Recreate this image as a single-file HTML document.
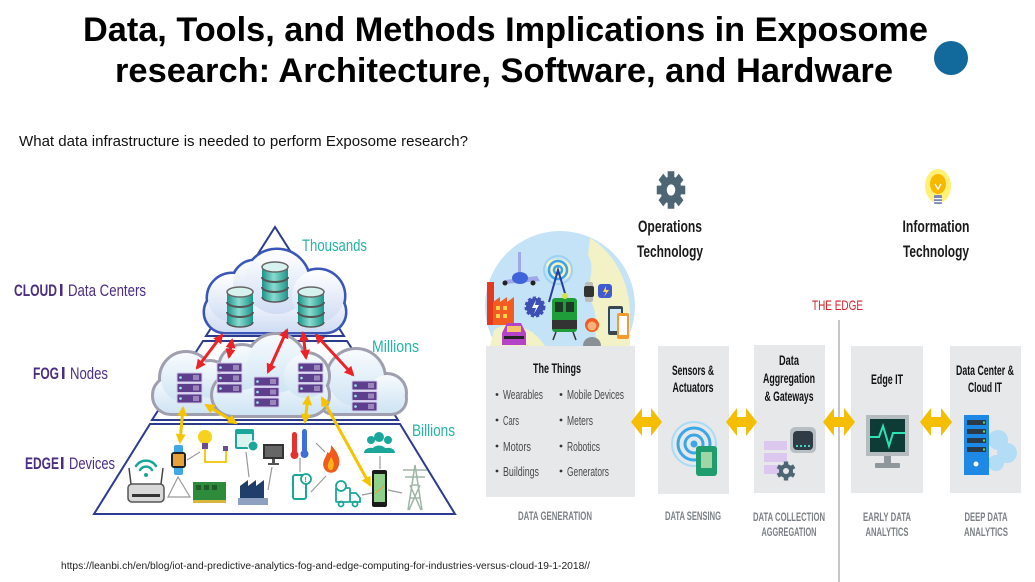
<!DOCTYPE html>
<html><head><meta charset="utf-8"><style>
html,body{margin:0;padding:0;background:#fff;}
body{width:1035px;height:582px;overflow:hidden;}
svg{display:block;}
</style></head><body>
<svg width="1035" height="582" viewBox="0 0 1035 582" xmlns="http://www.w3.org/2000/svg" font-family="'Liberation Sans', Arial, sans-serif">
<defs>
  <linearGradient id="gTop" x1="0" y1="0" x2="0" y2="1"><stop offset="0" stop-color="#ffffff"/><stop offset="1" stop-color="#cfdcf3"/></linearGradient>
  <linearGradient id="gFog" x1="0" y1="0" x2="0" y2="1"><stop offset="0" stop-color="#f7fbfe"/><stop offset="1" stop-color="#cfe4f3"/></linearGradient>
  <linearGradient id="gTeal" x1="0" y1="0" x2="1" y2="0"><stop offset="0" stop-color="#1c9488"/><stop offset="0.45" stop-color="#8adbd0"/><stop offset="1" stop-color="#1c9488"/></linearGradient>
  <marker id="mr" viewBox="0 0 10 10" refX="8" refY="5" markerWidth="10" markerHeight="10" markerUnits="userSpaceOnUse" orient="auto-start-reverse"><path d="M0,0 L10,5 L0,10 z" fill="#ec2227"/></marker>
  <marker id="my" viewBox="0 0 10 10" refX="8" refY="5" markerWidth="10" markerHeight="10" markerUnits="userSpaceOnUse" orient="auto-start-reverse"><path d="M0,0 L10,5 L0,10 z" fill="#f5c400"/></marker>
  <clipPath id="globeClip"><rect x="480" y="220" width="160" height="126"/></clipPath>
  <g id="db">
    <path d="M0,5 V35 A13,5 0 0 0 26,35 V5 Z" fill="url(#gTeal)"/>
    <path d="M0,15 A13,5 0 0 0 26,15" fill="none" stroke="#555" stroke-width="2"/>
    <path d="M0,25 A13,5 0 0 0 26,25" fill="none" stroke="#555" stroke-width="2"/>
    <path d="M0,35 A13,5 0 0 0 26,35" fill="none" stroke="#555" stroke-width="1.5"/>
    <ellipse cx="13" cy="5" rx="13" ry="5" fill="#d6f1ee" stroke="#666" stroke-width="1.5"/>
  </g>
  <g id="sv">
    <rect x="0" y="0" width="25" height="9" rx="1" fill="#5d3f8e" stroke="#d4c8ea" stroke-width="1"/>
    <rect x="0" y="10.5" width="25" height="9" rx="1" fill="#5d3f8e" stroke="#d4c8ea" stroke-width="1"/>
    <rect x="0" y="21" width="25" height="9" rx="1" fill="#5d3f8e" stroke="#d4c8ea" stroke-width="1"/>
    <circle cx="3.5" cy="4.5" r="1.3" fill="#9ff0e6"/><circle cx="3.5" cy="15" r="1.3" fill="#9ff0e6"/><circle cx="3.5" cy="25.5" r="1.3" fill="#9ff0e6"/>
    <path d="M17,2v5M19,2v5M21,2v5M17,12.5v5M19,12.5v5M21,12.5v5M17,23v5M19,23v5M21,23v5" stroke="#e4dcf2" stroke-width="0.9"/>
  </g>
  <g id="c1">
    <rect x="205" y="292" width="140" height="40" rx="20"/>
    <circle cx="232" cy="298" r="24"/>
    <circle cx="255" cy="283" r="22"/>
    <circle cx="277" cy="282" r="32"/>
    <circle cx="318" cy="296" r="26"/>
  </g>
  <g id="f1">
    <rect x="154" y="378" width="80" height="35" rx="17"/>
    <circle cx="186" cy="378" r="25"/>
    <circle cx="210" cy="380" r="18"/>
  </g>
  <g id="f2">
    <rect x="213" y="375" width="115" height="40" rx="20"/>
    <circle cx="242" cy="368" r="22"/>
    <circle cx="276" cy="364" r="29"/>
    <circle cx="306" cy="376" r="22"/>
  </g>
  <g id="f3">
    <rect x="320" y="385" width="85" height="28" rx="14"/>
    <circle cx="356" cy="378" r="28"/>
    <circle cx="387" cy="393" r="18"/>
  </g>
</defs>

<!-- Title -->
<text x="83" y="41" font-size="34" font-weight="bold" fill="#000" textLength="845" lengthAdjust="spacingAndGlyphs">Data, Tools, and Methods Implications in Exposome</text>
<text x="115" y="82" font-size="34" font-weight="bold" fill="#000" textLength="778" lengthAdjust="spacingAndGlyphs">research: Architecture, Software, and Hardware</text>
<circle cx="951" cy="58" r="17" fill="#12699b"/>
<text x="19" y="146" font-size="15" fill="#111" textLength="449" lengthAdjust="spacingAndGlyphs">What data infrastructure is needed to perform Exposome research?</text>

<!-- Pyramid -->
<g fill="none" stroke="#2b3b8f" stroke-width="2">
  <polygon points="275,227 206,336 344,336"/>
  <polygon points="203,341 347,341 398,420 152,420"/>
  <polygon points="150,424 400,424 455,514 94,514"/>
</g>

<!-- left labels -->
<g fill="#4b2e83" font-size="16.5">
  <text x="14" y="296" font-weight="bold" textLength="43" lengthAdjust="spacingAndGlyphs">CLOUD</text>
  <rect x="60" y="284" width="2.5" height="12"/>
  <text x="68" y="296" textLength="78" lengthAdjust="spacingAndGlyphs">Data Centers</text>
  <text x="33" y="379" font-weight="bold" textLength="26" lengthAdjust="spacingAndGlyphs">FOG</text>
  <rect x="62" y="367" width="2.5" height="12"/>
  <text x="70" y="379" textLength="38" lengthAdjust="spacingAndGlyphs">Nodes</text>
  <text x="25" y="469" font-weight="bold" textLength="34" lengthAdjust="spacingAndGlyphs">EDGE</text>
  <rect x="61" y="457" width="2.5" height="12"/>
  <text x="69" y="469" textLength="46" lengthAdjust="spacingAndGlyphs">Devices</text>
</g>
<g fill="#26b3a3" font-size="16.5">
  <text x="302" y="251" textLength="65" lengthAdjust="spacingAndGlyphs">Thousands</text>
  <text x="372" y="352" textLength="47" lengthAdjust="spacingAndGlyphs">Millions</text>
  <text x="412" y="436" textLength="43" lengthAdjust="spacingAndGlyphs">Billions</text>
</g>

<!-- Clouds -->
<use href="#c1" fill="#3a56b8" stroke="#3a56b8" stroke-width="5"/>
<use href="#c1" fill="url(#gTop)"/>
<use href="#f1" fill="#a09fb0" stroke="#a09fb0" stroke-width="6"/>
<use href="#f1" fill="url(#gFog)"/>
<use href="#f3" fill="#a09fb0" stroke="#a09fb0" stroke-width="6"/>
<use href="#f3" fill="url(#gFog)"/>
<use href="#f2" fill="#a09fb0" stroke="#a09fb0" stroke-width="6"/>
<use href="#f2" fill="url(#gFog)"/>

<!-- databases -->
<use href="#db" x="227" y="287"/>
<use href="#db" x="262" y="262"/>
<use href="#db" x="298" y="287"/>

<!-- servers -->
<use href="#sv" x="177" y="373"/>
<use href="#sv" x="217" y="363"/>
<use href="#sv" x="254" y="377"/>
<use href="#sv" x="298" y="363"/>
<use href="#sv" x="352" y="381"/>

<!-- red arrows -->
<g stroke="#ec2227" stroke-width="3" marker-start="url(#mr)" marker-end="url(#mr)">
  <line x1="222" y1="335" x2="197" y2="368"/>
  <line x1="232" y1="340" x2="229" y2="357"/>
  <line x1="287" y1="330" x2="268" y2="372"/>
  <line x1="303" y1="333" x2="306" y2="358"/>
  <line x1="316" y1="335" x2="353" y2="375"/>
</g>

<!-- edge device connections -->
<g stroke="#9a9a9a" stroke-width="1.2" fill="none">
  <path d="M178,477 L168,497 L190,497 Z"/>
  <line x1="187" y1="460" x2="200" y2="452"/>
  <line x1="246" y1="452" x2="249" y2="477"/>
  <line x1="272" y1="467" x2="268" y2="490"/>
  <line x1="316" y1="443" x2="325" y2="452"/>
  <line x1="300" y1="458" x2="300" y2="472"/>
  <line x1="311" y1="492" x2="326" y2="476"/>
  <line x1="362" y1="495" x2="372" y2="493"/>
  <line x1="388" y1="490" x2="402" y2="493"/>
  <line x1="380" y1="456" x2="380" y2="469"/>
</g>

<!-- edge icons -->
<g fill="none" stroke="#1aa79a" stroke-width="2.5" stroke-linecap="round">
  <path d="M136,466 A12,12 0 0 1 156,466"/>
  <path d="M140,470 A7,7 0 0 1 152,470"/>
</g>
<circle cx="146" cy="475" r="2" fill="#1aa79a"/>
<line x1="131" y1="484" x2="129" y2="468" stroke="#444" stroke-width="1.5"/>
<line x1="161" y1="484" x2="163" y2="468" stroke="#444" stroke-width="1.5"/>
<rect x="128" y="484" width="36" height="18" rx="4" fill="#d8d8d8" stroke="#555" stroke-width="1.5"/>
<rect x="132" y="494" width="28" height="3" fill="#333"/>
<rect x="174" y="445" width="9" height="30" rx="2" fill="#43a6e6"/>
<rect x="171" y="452" width="15" height="16" rx="3" fill="#222"/>
<rect x="173" y="454" width="11" height="12" fill="#e8a23a"/>
<circle cx="205" cy="437" r="7" fill="#f7d21c"/>
<rect x="202" y="443" width="6" height="6" fill="#6a4d8d"/>
<path d="M205,449 V462 H226 V450" fill="none" stroke="#f5c400" stroke-width="1.8"/>
<rect x="223" y="446" width="5" height="5" fill="#6a4d8d"/>
<rect x="235" y="429" width="19" height="20" rx="2" fill="#1aa79a"/>
<rect x="237" y="434" width="15" height="13" fill="#d9f3ef"/>
<circle cx="253" cy="446" r="5" fill="#1aa79a" stroke="#fff" stroke-width="1"/>
<rect x="193" y="482" width="33" height="20" fill="#2e8b3c"/>
<rect x="196" y="485" width="5" height="5" fill="#1f5c28"/><rect x="204" y="485" width="5" height="5" fill="#1f5c28"/><rect x="212" y="485" width="5" height="5" fill="#1f5c28"/>
<rect x="193" y="500" width="33" height="3" fill="#d8b640"/>
<path d="M240,505 V486 L248,480 V486 L256,480 V486 L264,480 V505 Z" fill="#1f3f6a"/>
<rect x="238" y="498" width="30" height="7" fill="#8ea1c0"/>
<rect x="263" y="444" width="21" height="15" fill="#333"/>
<rect x="265" y="446" width="17" height="11" fill="#666"/>
<rect x="272" y="459" width="3" height="4" fill="#555"/>
<rect x="268" y="463" width="11" height="2" fill="#555"/>
<rect x="292" y="432" width="5" height="22" rx="2.5" fill="#e5322d"/>
<circle cx="294.5" cy="455" r="4" fill="#e5322d"/>
<rect x="302" y="429" width="5" height="24" rx="2.5" fill="#3f6fd8"/>
<circle cx="304.5" cy="454" r="4" fill="#3f6fd8"/>
<path d="M331,445 C340,455 342,463 336,471 C332,474 326,473 324,468 C321,461 327,457 327,452 C330,455 331,450 331,445 Z" fill="#f05a1c"/>
<path d="M331,457 C334,461 335,466 332,470 C329,471 327,468 328,464 Z" fill="#f7b21c"/>
<rect x="293" y="475" width="13" height="24" rx="2" fill="none" stroke="#1aa79a" stroke-width="2"/>
<circle cx="306" cy="479" r="5" fill="#fff" stroke="#1aa79a" stroke-width="1.8"/>
<text x="304.5" y="482" font-size="7" font-weight="bold" fill="#1aa79a">!</text>
<g fill="none" stroke="#1aa79a" stroke-width="1.8">
  <rect x="336" y="488" width="14" height="14" rx="1"/>
  <path d="M350,493 H356 L360,498 V502 H350"/>
  <circle cx="341" cy="504" r="2.5"/><circle cx="355" cy="504" r="2.5"/>
  <circle cx="341" cy="486" r="5" fill="#fff"/>
</g>
<rect x="372" y="470" width="15" height="37" rx="2" fill="#1b1b1b"/>
<rect x="374" y="474" width="11" height="28" fill="#8fd18c"/>
<path d="M375,494 C378,488 381,492 384,484" stroke="#f29a2e" stroke-width="1" fill="none"/>
<g fill="#1aa79a">
  <circle cx="371" cy="440" r="4"/><path d="M364,453 C364,446 378,446 378,453 Z"/>
  <circle cx="388" cy="440" r="4"/><path d="M381,453 C381,446 395,446 395,453 Z"/>
  <circle cx="379" cy="437" r="5"/><path d="M371,453 C371,443 387,443 387,453 Z"/>
</g>
<g stroke="#9fb5a8" stroke-width="1.5" fill="none">
  <path d="M408,510 L415,465 L422,510 M410,498 L420,498 M412,485 L418,485 M405,477 H425 M403,470 H427 M409,510 L420,485 M421,510 L410,485"/>
</g>

<!-- yellow arrows left -->
<g stroke="#f5c400" stroke-width="3" marker-start="url(#my)" marker-end="url(#my)">
  <line x1="183" y1="408" x2="180" y2="442"/>
  <line x1="206" y1="405" x2="236" y2="423"/>
  <line x1="308" y1="397" x2="305" y2="422"/>
  <line x1="322" y1="398" x2="370" y2="485"/>
</g>

<!-- RIGHT DIAGRAM -->
<g clip-path="url(#globeClip)">
  <circle cx="560" cy="306" r="75" fill="#c4e3f7"/>
  <path d="M590,238 C610,250 628,275 630,310 L630,346 L598,346 C592,330 600,315 590,300 C585,285 597,270 588,255 Z" fill="#f3f1c6"/>
  <path d="M494,330 C505,322 520,325 532,332 C540,338 545,346 545,346 L490,346 Z" fill="#f3f1c6"/>
  <path d="M545,262 C560,255 575,262 572,275 C565,282 550,280 545,262 Z" fill="#f3f1c6"/>
  <rect x="487" y="282" width="7" height="43" fill="#e5391f"/>
  <path d="M493,325 V302 L500,297 V302 L507,297 V302 L514,297 V325 Z" fill="#f25c22"/>
  <g fill="#ffd54a"><rect x="496" y="306" width="4" height="4"/><rect x="503" y="306" width="4" height="4"/><rect x="496" y="314" width="4" height="4"/><rect x="503" y="314" width="4" height="4"/></g>
  <path d="M502,345 V333 L507,323 H521 L526,333 V345 Z" fill="#b543c8"/>
  <rect x="507" y="326" width="14" height="6" fill="#f7c46b"/>
  <rect x="504" y="336" width="20" height="3" fill="#222"/>
  <path d="M505,280 L537,276 L540,281 L505,284 Z" fill="#9fa8e8"/>
  <ellipse cx="520" cy="278" rx="8" ry="6" fill="#3f63d8"/>
  <rect x="518" y="252" width="3" height="20" fill="#9fa8e8"/>
  <circle cx="505" cy="283" r="2.5" fill="#222"/><circle cx="533" cy="283" r="2.5" fill="#222"/>
  <circle cx="558" cy="270" r="14" fill="none" stroke="#9ed2f2" stroke-width="2"/>
  <circle cx="558" cy="270" r="9" fill="none" stroke="#3da3e6" stroke-width="2.5"/>
  <circle cx="558" cy="270" r="4" fill="none" stroke="#3da3e6" stroke-width="2.5"/>
  <path d="M549,302 L558,270 L567,300" fill="none" stroke="#2a3d9a" stroke-width="2"/>
  <circle cx="535" cy="307" r="9" fill="#3c4fb5" stroke="#3c4fb5" stroke-width="3" stroke-dasharray="3 2"/>
  <path d="M536,300 L532,308 H536 L534,314 L539,305 H535 Z" fill="#fff"/>
  <rect x="552" y="298" width="25" height="34" rx="3" fill="#1f9d3a"/>
  <rect x="555" y="302" width="8" height="10" fill="#1b3b25"/><rect x="566" y="302" width="8" height="10" fill="#1b3b25"/>
  <rect x="552" y="320" width="25" height="9" fill="#333"/>
  <circle cx="565" cy="296" r="3" fill="#d4e34a"/>
  <path d="M556,332 L553,340 M573,332 L576,340" stroke="#333" stroke-width="1.5"/>
  <rect x="585" y="282" width="8" height="20" rx="2" fill="#bbb"/>
  <rect x="584" y="286" width="10" height="11" rx="2" fill="#333"/>
  <rect x="598" y="284" width="14" height="14" rx="3" fill="#3f5bd0"/>
  <path d="M606,286 L603,292 H606 L604,297 L609,290 H606 Z" fill="#ffd54a"/>
  <circle cx="592" cy="325" r="7" fill="#f25c22"/>
  <circle cx="592" cy="326" r="4.5" fill="#f7b07a"/>
  <path d="M583,346 C583,334 601,334 601,346 Z" fill="#8a9196"/>
  <rect x="608" y="306" width="15" height="29" rx="2" fill="#37474f"/>
  <rect x="610" y="309" width="11" height="22" fill="#cfe8f8"/>
  <rect x="617" y="313" width="12" height="26" rx="2" fill="#f59a2e"/>
  <rect x="619" y="316" width="8" height="19" fill="#fff"/>
</g>

<!-- gear icon -->
<g transform="translate(671,190) scale(0.95,1.25)" fill="#4e6574">
  <circle r="11"/>
  <rect x="-3.5" y="-15" width="7" height="30"/>
  <rect x="-3.5" y="-15" width="7" height="30" transform="rotate(45)"/>
  <rect x="-3.5" y="-15" width="7" height="30" transform="rotate(90)"/>
  <rect x="-3.5" y="-15" width="7" height="30" transform="rotate(135)"/>
  <circle r="4.5" fill="#fff"/>
</g>
<!-- bulb icon -->
<ellipse cx="938" cy="186" rx="13" ry="17" fill="#fff176"/>
<ellipse cx="938" cy="184" rx="8" ry="10" fill="#f6b800"/>
<path d="M935,184 L938,189 L941,184" stroke="#fff" stroke-width="1.3" fill="none"/>
<rect x="934" y="195" width="8" height="9" rx="1" fill="#7b86b8"/>
<rect x="934" y="198" width="8" height="1.2" fill="#fff"/><rect x="934" y="201" width="8" height="1.2" fill="#fff"/>

<g font-weight="bold" fill="#1a1a1a" font-size="17" text-anchor="middle">
  <text x="670" y="232" textLength="64" lengthAdjust="spacingAndGlyphs">Operations</text>
  <text x="670" y="257" textLength="66" lengthAdjust="spacingAndGlyphs">Technology</text>
  <text x="936" y="232" textLength="67" lengthAdjust="spacingAndGlyphs">Information</text>
  <text x="936" y="257" textLength="66" lengthAdjust="spacingAndGlyphs">Technology</text>
</g>
<text x="812" y="310" font-size="14" fill="#d4232a" textLength="51" lengthAdjust="spacingAndGlyphs">THE EDGE</text>
<line x1="839" y1="320" x2="839" y2="582" stroke="#b0b4b8" stroke-width="1.5"/>

<!-- boxes -->
<g fill="#e6e8e9">
  <rect x="486" y="346" width="149" height="151"/>
  <rect x="658" y="346" width="71" height="148"/>
  <rect x="754" y="345" width="71" height="148"/>
  <rect x="851" y="346" width="72" height="147"/>
  <rect x="950" y="346" width="71" height="147"/>
</g>

<g font-weight="bold" fill="#111" font-size="13.5" text-anchor="middle">
  <text x="557" y="373" textLength="48" lengthAdjust="spacingAndGlyphs">The Things</text>
  <text x="693" y="375" textLength="42" lengthAdjust="spacingAndGlyphs">Sensors &amp;</text>
  <text x="693" y="392" textLength="41" lengthAdjust="spacingAndGlyphs">Actuators</text>
  <text x="789" y="365" textLength="20" lengthAdjust="spacingAndGlyphs">Data</text>
  <text x="789" y="383" textLength="52" lengthAdjust="spacingAndGlyphs">Aggregation</text>
  <text x="789" y="401" textLength="49" lengthAdjust="spacingAndGlyphs">&amp; Gateways</text>
  <text x="887" y="384" textLength="32" lengthAdjust="spacingAndGlyphs">Edge IT</text>
  <text x="985" y="375" textLength="58" lengthAdjust="spacingAndGlyphs">Data Center &amp;</text>
  <text x="985" y="392" textLength="34" lengthAdjust="spacingAndGlyphs">Cloud IT</text>
</g>

<!-- bullets -->
<g fill="#333"><circle cx="497" cy="394.5" r="1.4"/><circle cx="497" cy="420" r="1.4"/><circle cx="497" cy="446" r="1.4"/><circle cx="497" cy="471" r="1.4"/>
<circle cx="561" cy="394.5" r="1.4"/><circle cx="561" cy="420" r="1.4"/><circle cx="561" cy="446" r="1.4"/><circle cx="561" cy="471" r="1.4"/></g>
<g fill="#4a4a4a" font-size="13">
  <text x="503" y="399" textLength="40" lengthAdjust="spacingAndGlyphs">Wearables</text>
  <text x="503" y="425" textLength="16" lengthAdjust="spacingAndGlyphs">Cars</text>
  <text x="503" y="451" textLength="28" lengthAdjust="spacingAndGlyphs">Motors</text>
  <text x="503" y="476" textLength="36" lengthAdjust="spacingAndGlyphs">Buildings</text>
  <text x="567" y="399" textLength="57" lengthAdjust="spacingAndGlyphs">Mobile Devices</text>
  <text x="567" y="425" textLength="26" lengthAdjust="spacingAndGlyphs">Meters</text>
  <text x="567" y="451" textLength="33" lengthAdjust="spacingAndGlyphs">Robotics</text>
  <text x="567" y="476" textLength="42" lengthAdjust="spacingAndGlyphs">Generators</text>
</g>

<!-- sensor icon -->
<circle cx="694" cy="444" r="22" fill="none" stroke="#a9dcf6" stroke-width="2"/>
<circle cx="694" cy="444" r="16" fill="none" stroke="#3aa8e8" stroke-width="3"/>
<circle cx="694" cy="444" r="9" fill="none" stroke="#3aa8e8" stroke-width="3"/>
<circle cx="694" cy="444" r="3.5" fill="#3aa8e8"/>
<rect x="696" y="446" width="21" height="30" rx="3" fill="#1f9d6e"/>
<rect x="701" y="452" width="11" height="16" fill="#9fd6a6"/>

<!-- aggregation icon -->
<g fill="#dcc8ee"><rect x="764" y="441" width="23" height="9"/><rect x="764" y="453" width="23" height="9"/><rect x="764" y="465" width="23" height="9"/></g>
<rect x="790" y="427" width="26" height="26" rx="5" fill="#b8bfc4"/>
<rect x="793" y="431" width="20" height="19" rx="4" fill="#2f3b45"/>
<g fill="#3fd6c8"><rect x="796" y="445" width="2" height="2"/><rect x="800" y="445" width="2" height="2"/><rect x="804" y="445" width="2" height="2"/><rect x="808" y="445" width="2" height="2"/></g>
<g transform="translate(786,471)" fill="#4e6574">
  <circle r="7"/>
  <rect x="-2.2" y="-9.5" width="4.4" height="19"/>
  <rect x="-2.2" y="-9.5" width="4.4" height="19" transform="rotate(60)"/>
  <rect x="-2.2" y="-9.5" width="4.4" height="19" transform="rotate(120)"/>
  <circle r="3" fill="#e6e8e9"/>
</g>

<!-- edge IT monitor -->
<rect x="866" y="415" width="43" height="41" fill="#b5bcc0"/>
<rect x="870" y="419" width="35" height="33" fill="#0f3b36"/>
<path d="M870,437 H879 L883,426 L889,446 L893,433 H905" fill="none" stroke="#2de3b4" stroke-width="2"/>
<rect x="884" y="456" width="7" height="7" fill="#8e979c"/>
<rect x="875" y="463" width="25" height="5" rx="1" fill="#8e979c"/>

<!-- data center icon -->
<circle cx="998" cy="440" r="10" fill="#b3dcf5"/>
<circle cx="1007" cy="453" r="10" fill="#b3dcf5"/>
<circle cx="996" cy="463" r="8" fill="#b3dcf5"/>
<rect x="964" y="415" width="25" height="60" fill="#1e88e5"/>
<g fill="#2a3a48"><rect x="967" y="420" width="19" height="5"/><rect x="967" y="429" width="19" height="5"/><rect x="967" y="438" width="19" height="5"/><rect x="967" y="447" width="19" height="5"/></g>
<g fill="#6ee04a"><rect x="983" y="421.5" width="2" height="2"/><rect x="983" y="430.5" width="2" height="2"/><rect x="983" y="439.5" width="2" height="2"/><rect x="983" y="448.5" width="2" height="2"/></g>
<circle cx="976" cy="464" r="2.5" fill="#fff"/>

<!-- fat yellow arrows -->
<g fill="#f5be00">
  <polygon points="631,422 642,408 642,417 651,417 651,408 662,422 651,436 651,427 642,427 642,436"/>
  <polygon points="726,422 737,408 737,417 746,417 746,408 757,422 746,436 746,427 737,427 737,436"/>
  <polygon points="823,422 834,408 834,417 844,417 844,408 855,422 844,436 844,427 834,427 834,436"/>
  <polygon points="920,422 931,408 931,417 941,417 941,408 952,422 941,436 941,427 931,427 931,436"/>
</g>

<!-- bottom stage labels -->
<g fill="#7b8186" font-size="11.5" font-weight="bold" text-anchor="middle">
  <text x="555" y="520" textLength="74" lengthAdjust="spacingAndGlyphs">DATA GENERATION</text>
  <text x="693" y="520" textLength="56" lengthAdjust="spacingAndGlyphs">DATA SENSING</text>
  <text x="789" y="521" textLength="72" lengthAdjust="spacingAndGlyphs">DATA COLLECTION</text>
  <text x="789" y="536" textLength="55" lengthAdjust="spacingAndGlyphs">AGGREGATION</text>
  <text x="887" y="521" textLength="48" lengthAdjust="spacingAndGlyphs">EARLY DATA</text>
  <text x="887" y="536" textLength="43" lengthAdjust="spacingAndGlyphs">ANALYTICS</text>
  <text x="986" y="521" textLength="43" lengthAdjust="spacingAndGlyphs">DEEP DATA</text>
  <text x="986" y="536" textLength="44" lengthAdjust="spacingAndGlyphs">ANALYTICS</text>
</g>

<!-- source URL -->
<text x="61" y="569" font-size="10" fill="#222" textLength="529" lengthAdjust="spacingAndGlyphs">https://leanbi.ch/en/blog/iot-and-predictive-analytics-fog-and-edge-computing-for-industries-versus-cloud-19-1-2018//</text>
</svg>
</body></html>
